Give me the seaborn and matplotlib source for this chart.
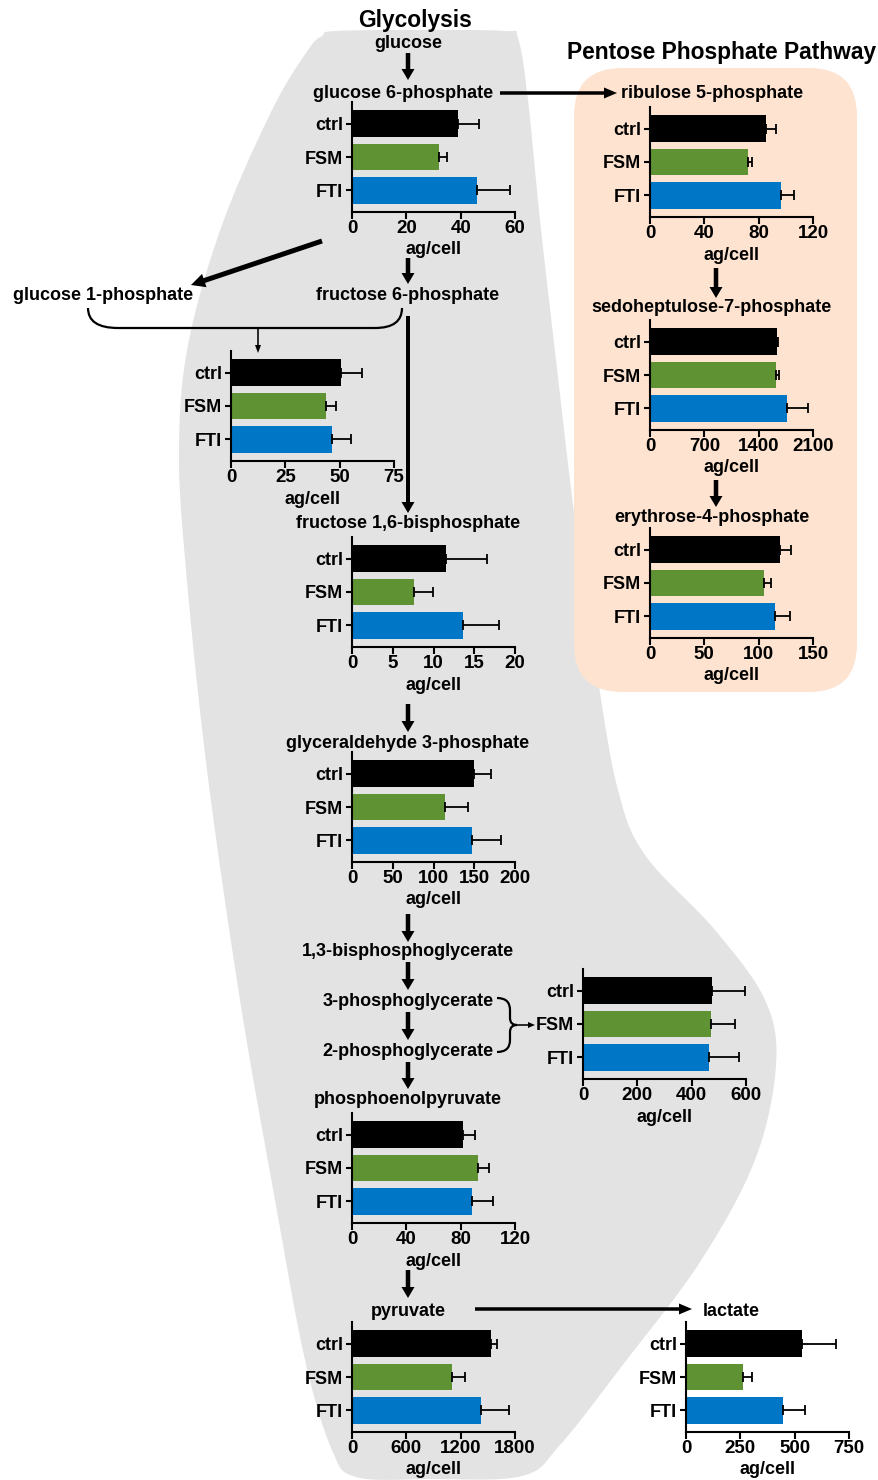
import numpy as np
import pandas as pd
import matplotlib
matplotlib.use("Agg")
import matplotlib.pyplot as plt
import seaborn as sns
from matplotlib.path import Path
from matplotlib.patches import PathPatch, FancyBboxPatch

# groups and bar colours
groups = ["ctrl", "FSM", "FTI"]
colors = ["#000000", "#5e9232", "#0076c6"]

# metabolite levels (ag/cell), mean and upper error
g6p_mean = [39.2, 32.2, 46.1]
g6p_err = [7.4, 2.7, 11.9]
ru5p_mean = [85.5, 72.5, 96.6]
ru5p_err = [7.4, 2.5, 9.6]
g1p_mean = [50.5, 43.9, 46.5]
g1p_err = [9.6, 4.5, 8.5]
s7p_mean = [1633, 1624, 1770]
s7p_err = [22, 35, 262]
f16bp_mean = [11.5, 7.6, 13.6]
f16bp_err = [5.1, 2.3, 4.45]
e4p_mean = [119.3, 104.5, 114.7]
e4p_err = [10.4, 7.1, 13.8]
gap_mean = [150.3, 114.5, 147.0]
gap_err = [20.7, 27.3, 35.5]
pg_mean = [475.6, 469.5, 463.4]
pg_err = [119.4, 90.5, 112.2]
pep_mean = [81.4, 92.9, 88.0]
pep_err = [9.3, 8.3, 15.7]
pyr_mean = [1540, 1100, 1427]
pyr_err = [66, 143, 311]
lac_mean = [532, 262, 445]
lac_err = [160, 43, 104]

# x ticks of each panel
g6p_ticks = [0, 20, 40, 60]
ru5p_ticks = [0, 40, 80, 120]
g1p_ticks = [0, 25, 50, 75]
s7p_ticks = [0, 700, 1400, 2100]
f16bp_ticks = [0, 5, 10, 15, 20]
e4p_ticks = [0, 50, 100, 150]
gap_ticks = [0, 50, 100, 150, 200]
pg_ticks = [0, 200, 400, 600]
pep_ticks = [0, 40, 80, 120]
pyr_ticks = [0, 600, 1200, 1800]
lac_ticks = [0, 250, 500, 750]

sns.set_style("ticks")
plt.rcParams['font.family'] = ['Liberation Sans', 'DejaVu Sans']
plt.rcParams['font.weight'] = 'bold'
plt.rcParams['text.color'] = 'black'

W, H = 879, 1480
fig = plt.figure(figsize=(W / 100, H / 100), dpi=100)

# background axes in pixel units
bg = fig.add_axes([0, 0, 1, 1])
bg.set_xlim(0, W)
bg.set_ylim(H, 0)
bg.axis('off')


def smooth_closed(pts, n=24):
    pts = np.asarray(pts, float)
    N = len(pts)
    out = []
    t = np.linspace(0, 1, n, endpoint=False)[:, None]
    for i in range(N):
        p0, p1, p2, p3 = pts[i - 1], pts[i], pts[(i + 1) % N], pts[(i + 2) % N]
        seg = 0.5 * (2 * p1 + (-p0 + p2) * t + (2 * p0 - 5 * p1 + 4 * p2 - p3) * t ** 2
                     + (-p0 + 3 * p1 - 3 * p2 + p3) * t ** 3)
        out.append(seg)
    return np.vstack(out)


gray_outline = [(322, 36), (335, 31), (420, 30), (505, 31), (518, 38), (528, 100),
                (540, 220), (556, 360), (575, 520), (598, 680), (618, 790),
                (645, 855), (715, 930), (765, 1000), (776, 1065), (755, 1160),
                (700, 1262), (625, 1362), (560, 1445), (522, 1476), (430, 1479),
                (356, 1477), (332, 1450), (305, 1360), (275, 1200), (240, 1000),
                (207, 770), (186, 570), (179, 450), (188, 345), (222, 225),
                (272, 110), (308, 50)]
shape = smooth_closed(gray_outline)
bg.fill(shape[:, 0], shape[:, 1], color="#e3e3e3", lw=0, zorder=0)

bg.add_patch(FancyBboxPatch((574, 68), 283, 624, boxstyle="round,pad=0,rounding_size=48",
                            fc="#fde3d0", ec="none", zorder=1))

# titles and metabolite names
bg.text(415, 18, "Glycolysis", fontsize=16.4, ha='center', va='center_baseline', zorder=3)
bg.text(722, 50, "Pentose Phosphate Pathway", fontsize=16.4, ha='center', va='center_baseline', zorder=3)
names = [("glucose", 408, 41), ("glucose 6-phosphate", 403, 91),
         ("ribulose 5-phosphate", 712, 92), ("glucose 1-phosphate", 103, 293),
         ("fructose 6-phosphate", 408, 293), ("sedoheptulose-7-phosphate", 712, 306),
         ("erythrose-4-phosphate", 712, 515), ("fructose 1,6-bisphosphate", 408, 522),
         ("glyceraldehyde 3-phosphate", 408, 742), ("1,3-bisphosphoglycerate", 408, 950),
         ("3-phosphoglycerate", 408, 1000), ("2-phosphoglycerate", 408, 1050),
         ("phosphoenolpyruvate", 408, 1097), ("pyruvate", 408, 1309), ("lactate", 731, 1309)]
for txt, x, y in names:
    bg.text(x, y, txt, fontsize=13, ha='center', va='center_baseline', zorder=3)


def arrow(x0, y0, x1, y1, w=4.5, hw=13, hl=11):
    bg.arrow(x0, y0, x1 - x0, y1 - y0, width=w, head_width=hw, head_length=hl,
             length_includes_head=True, fc='black', ec='none', zorder=3)


for y0, y1 in [(53, 80), (258, 284), (704, 732), (914, 942), (962, 990),
               (1012, 1040), (1062, 1089), (1270, 1298)]:
    arrow(408, y0, 408, y1)
arrow(408, 316, 408, 513, w=4)
arrow(716, 268, 716, 298)
arrow(716, 480, 716, 507)
arrow(500, 93, 617, 93, w=3.5, hw=11, hl=13)
arrow(475, 1309, 692, 1309, w=3.5, hw=11, hl=13)
arrow(322, 241, 191, 285, w=5, hw=14, hl=14)
arrow(258, 329, 258, 353, w=1.6, hw=6, hl=8)
arrow(516, 1025, 535, 1025, w=1.6, hw=6, hl=7)

# bracket under glucose 1-phosphate / fructose 6-phosphate
br = Path([(88, 308), (88, 328), (118, 328), (375, 328), (402, 328), (402, 308)],
          [Path.MOVETO, Path.CURVE3, Path.CURVE3, Path.LINETO, Path.CURVE3, Path.CURVE3])
bg.add_patch(PathPatch(br, fc='none', ec='black', lw=1.6, zorder=3))

# brace after 3-/2-phosphoglycerate
brace = Path([(497, 998), (510, 998), (510, 1010), (510, 1018), (510, 1025), (517, 1025),
              (510, 1025), (510, 1032), (510, 1040), (510, 1052), (497, 1052)],
             [Path.MOVETO, Path.CURVE3, Path.CURVE3, Path.LINETO, Path.CURVE3, Path.CURVE3,
              Path.CURVE3, Path.CURVE3, Path.LINETO, Path.CURVE3, Path.CURVE3])
bg.add_patch(PathPatch(brace, fc='none', ec='black', lw=1.6, zorder=3))

# panel layout: left edge and x-axis line in pixels
panels = [
    (g6p_mean, g6p_err, g6p_ticks, 352, 212),
    (ru5p_mean, ru5p_err, ru5p_ticks, 650, 217),
    (g1p_mean, g1p_err, g1p_ticks, 231, 461),
    (s7p_mean, s7p_err, s7p_ticks, 650, 430),
    (f16bp_mean, f16bp_err, f16bp_ticks, 352, 647),
    (e4p_mean, e4p_err, e4p_ticks, 650, 638),
    (gap_mean, gap_err, gap_ticks, 352, 862),
    (pg_mean, pg_err, pg_ticks, 583, 1079),
    (pep_mean, pep_err, pep_ticks, 352, 1223),
    (pyr_mean, pyr_err, pyr_ticks, 352, 1432),
    (lac_mean, lac_err, lac_ticks, 686, 1432),
]
pw, ph = 163, 110

for mean, err, ticks, left, bottom in panels:
    ax = fig.add_axes([left / W, 1 - bottom / H, pw / W, ph / H])
    ax.patch.set_alpha(0)
    df = pd.DataFrame({'group': groups, 'value': mean})
    sns.barplot(data=df, x='value', y='group', hue='group', palette=colors, orient='h',
                width=0.8, saturation=1, linewidth=0, legend=False, ax=ax)
    ax.errorbar(mean, np.arange(3), xerr=[np.zeros(3), err], fmt='none', ecolor='black',
                elinewidth=1.3, capsize=3.5, capthick=1.3, zorder=3)
    ax.set_xlim(0, ticks[-1])
    ax.set_ylim(2.65, -0.65)
    ax.set_xticks(ticks)
    ax.set_xlabel('')
    ax.set_ylabel('')
    sns.despine(ax=ax)
    for s in ['left', 'bottom']:
        ax.spines[s].set_linewidth(1.5)
        ax.spines[s].set_color('black')
    ax.tick_params(axis='both', width=1.5, colors='black')
    ax.tick_params(axis='x', length=5, pad=1, labelsize=13.5)
    ax.tick_params(axis='y', length=4.5, pad=2, labelsize=13)
    bg.text(left + pw / 2, bottom + 36, "ag/cell", fontsize=13, ha='center',
            va='center_baseline', zorder=3)

fig.savefig("out.png", dpi=100)
